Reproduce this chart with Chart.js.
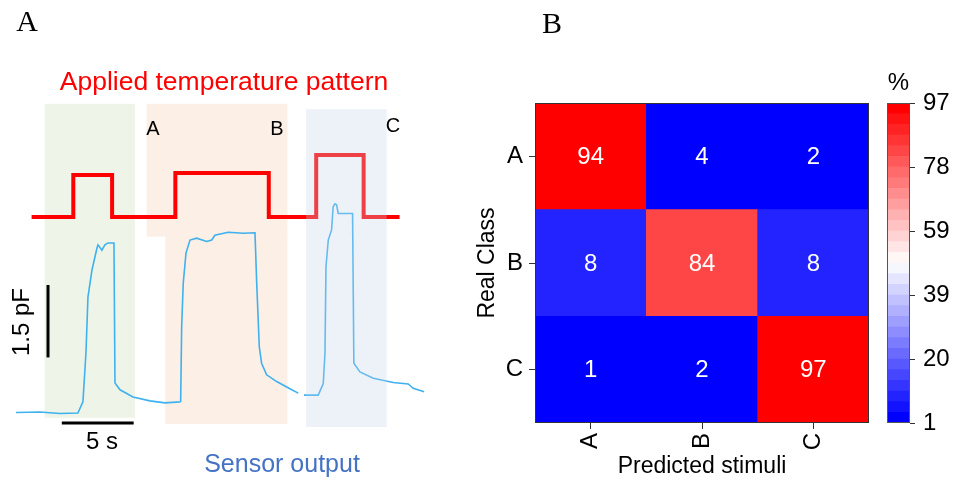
<!DOCTYPE html>
<html>
<head>
<meta charset="utf-8">
<script src="https://cdn.jsdelivr.net/npm/chart.js@4.4.1/dist/chart.umd.min.js"></script>
<style>
  html, body { margin:0; padding:0; background:#fff; }
  #wrap { position:relative; width:955px; height:483px; overflow:hidden; }
  canvas { position:absolute; top:0; }
  #traceCanvas { left:0; }
  #matrixCanvas { left:470px; }
  #barCanvas { left:860px; }
</style>
</head>
<body>
<div id="wrap">
  <canvas id="traceCanvas" width="470" height="483"></canvas>
  <canvas id="matrixCanvas" width="404" height="483"></canvas>
  <canvas id="barCanvas" width="95" height="483"></canvas>
</div>
<script>
// ---- panel A data (time in s, sensor in pF, temperature in arbitrary steps)
const tempTime  = [1.2, 4.1, 4.1, 6.8, 6.8, 11.2, 11.2, 17.7, 17.7, 21.0, 21.0, 24.3, 24.3, 26.8];
const tempLevel = [0, 0, 4.2, 4.2, 0, 0, 4.4, 4.4, 0, 0, 6.2, 6.2, 0, 0];

const sensorTime = [0.11, 1.78, 3.17, 4.42, 4.77, 4.98, 5.12, 5.40, 5.75, 5.82, 6.09, 6.30, 6.51, 6.93, 7.00,
  7.35, 8.25, 9.43, 10.48, 11.52, 11.57, 11.64, 11.75, 11.94, 12.22, 12.68, 13.38, 13.73, 13.95, 14.88,
  15.90, 16.74, 16.86, 17.04, 17.20, 17.55, 18.25, 19.17, 19.75, 19.95, 20.15, 21.14, 21.49, 21.61, 21.68,
  21.84, 22.07, 22.18, 22.30, 22.42, 22.53, 23.53, 23.62, 24.04, 24.97, 26.36, 27.40, 27.75, 28.51];
const sensorPF = [-0.04, -0.03, -0.06, -0.05, 0.18, 1.19, 2.35, 2.91, 3.37, 3.43, 3.32, 3.43, 3.47, 3.47, 0.57,
  0.43, 0.28, 0.20, 0.16, 0.18, 0.19, 1.74, 2.64, 3.26, 3.53, 3.57, 3.50, 3.53, 3.63, 3.69,
  3.67, 3.68, 2.64, 1.32, 0.98, 0.74, 0.60, 0.45, 0.36, null, 0.32, 0.32, 0.56, 1.19, 2.98,
  3.53, 3.74, 4.22, 4.28, 4.26, 4.08, 4.08, 0.98, 0.80, 0.67, 0.58, 0.55, 0.46, 0.39];

// stimulus windows (s / pF)
const shadeStart  = [2.1, 9.2, 10.5, 20.3];
const shadeEnd    = [8.4, 19.0, 19.0, 25.9];
const shadeTop    = [6.35, 6.35, 3.65, 6.24];
const shadeBottom = [-0.15, 3.6, -0.28, -0.34];
const shadeColors = ['#eef5e8', '#fbefe6', '#fbefe6', 'rgba(195,212,235,0.3)'];

// scale bars: 1.5 pF and 5 s
const pfBarTime = [2.34, 2.34];
const pfBarValue = [1.1, 2.6];
const sBarTime = [3.3, 8.3];
const sBarValue = [-0.26, -0.26];

// ---- panel B data
const predictedLabels = ['A', 'B', 'C'];
const realLabels = ['A', 'B', 'C'];
const rowA = [94, 4, 2];
const rowB = [8, 84, 8];
const rowC = [1, 2, 97];
const colorTicks = [1, 20, 39, 59, 78, 97];

const cMin = 1, cMax = 97, nBands = 30;
const FONT = 'Liberation Sans, Arial, sans-serif';
Chart.defaults.font.family = FONT;
Chart.defaults.color = '#000';

function toXY(xs, ys){
    return xs.map((x, i) => ({x: x, y: ys[i]}));
}
function bandColor(i){
    let t = i / (nBands - 1);
    if(t < 0.5){
        let c = Math.round(510 * t);
        return `rgb(${c},${c},255)`;
    }
    let c = Math.round(510 * (1 - t));
    return `rgb(255,${c},${c})`;
}
function valueColor(v){
    let i = Math.floor((v - cMin) / ((cMax - cMin) / nBands));
    return bandColor(Math.max(0, Math.min(nBands - 1, i)));
}

function drawShade(chart, idx){
    const ctx = chart.ctx, x = chart.scales.x, y = chart.scales.y;
    idx.forEach(i => {
        let l = x.getPixelForValue(shadeStart[i]), r = x.getPixelForValue(shadeEnd[i]);
        let t = y.getPixelForValue(shadeTop[i]), b = y.getPixelForValue(shadeBottom[i]);
        ctx.fillStyle = shadeColors[i];
        ctx.fillRect(l, t, r - l, b - t);
    });
}

const tracePlugin = {
    id: 'tracePlugin',
    beforeDatasetsDraw(chart){
        drawShade(chart, [0, 1, 2]);
    },
    afterDatasetsDraw(chart){
        drawShade(chart, [3]);
        const ctx = chart.ctx;
        ctx.save();
        ctx.textAlign = 'center';
        ctx.textBaseline = 'alphabetic';
        ctx.fillStyle = '#000';
        ctx.font = '30px Liberation Serif, Times New Roman, serif';
        ctx.fillText('A', 27, 31);
        ctx.fillStyle = '#ff0000';
        ctx.font = '26.5px ' + FONT;
        ctx.fillText('Applied temperature pattern', 224, 90);
        ctx.fillStyle = '#000';
        ctx.font = '20px ' + FONT;
        ctx.fillText('A', 153, 135);
        ctx.fillText('B', 277, 135);
        ctx.fillText('C', 393, 132);
        ctx.font = '24px ' + FONT;
        ctx.fillText('5 s', 102, 449);
        ctx.fillStyle = '#4472c4';
        ctx.font = '25px ' + FONT;
        ctx.fillText('Sensor output', 282, 472);
        ctx.fillStyle = '#000';
        ctx.font = '24px ' + FONT;
        ctx.translate(22, 322);
        ctx.rotate(-Math.PI / 2);
        ctx.textBaseline = 'middle';
        ctx.fillText('1.5 pF', 0, 0);
        ctx.restore();
    }
};

new Chart(document.getElementById('traceCanvas'), {
    type: 'line',
    data: {
        datasets: [
            {data: toXY(tempTime, tempLevel), yAxisID: 'yT', borderColor: '#ff0000', borderWidth: 4},
            {data: toXY(sensorTime, sensorPF), yAxisID: 'y', borderColor: '#3eb1ee', borderWidth: 1.6, spanGaps: false},
            {data: toXY(pfBarTime, pfBarValue), yAxisID: 'y', borderColor: '#000', borderWidth: 3},
            {data: toXY(sBarTime, sBarValue), yAxisID: 'y', borderColor: '#000', borderWidth: 3}
        ]
    },
    options: {
        responsive: false, animation: false, devicePixelRatio: 1,
        layout: {padding: 0},
        plugins: {legend: {display: false}, tooltip: {enabled: false}},
        elements: {point: {radius: 0}, line: {tension: 0, borderCapStyle: 'butt', borderJoinStyle: 'miter', fill: false}},
        scales: {
            x: {type: 'linear', min: -1, max: 31.7, display: false},
            y: {min: -1.5, max: 8.5, display: false},
            yT: {min: -26.6, max: 21.7, display: false}
        }
    },
    plugins: [tracePlugin]
});

// ---- panel B: confusion matrix as stacked unit bars
const rows = [rowC, rowB, rowA];
const axisGrid = {display: true, drawOnChartArea: false, drawTicks: true, tickLength: 6, color: '#333', offset: false};

const matrixPlugin = {
    id: 'matrixPlugin',
    afterDatasetsDraw(chart){
        const ctx = chart.ctx;
        ctx.save();
        ctx.fillStyle = '#fff';
        ctx.font = '24px ' + FONT;
        ctx.textAlign = 'center';
        ctx.textBaseline = 'middle';
        chart.data.datasets.forEach((ds, i) => {
            chart.getDatasetMeta(i).data.forEach((bar, j) => {
                ctx.fillText(String(ds.values[j]), bar.x, (bar.y + bar.base) / 2 + 1);
            });
        });
        const a = chart.chartArea;
        ctx.strokeStyle = '#333';
        ctx.lineWidth = 1;
        ctx.strokeRect(a.left + 0.5, a.top + 0.5, a.right - a.left - 1, a.bottom - a.top - 1);
        ctx.fillStyle = '#000';
        ctx.font = '30px Liberation Serif, Times New Roman, serif';
        ctx.textAlign = 'left';
        ctx.textBaseline = 'alphabetic';
        ctx.fillText('B', 72, 33);
        ctx.restore();
    }
};

new Chart(document.getElementById('matrixCanvas'), {
    type: 'bar',
    data: {
        labels: predictedLabels,
        datasets: rows.map(row => ({
            data: row.map(() => 1),
            values: row,
            backgroundColor: row.map(valueColor),
            borderWidth: 0,
            barPercentage: 1,
            categoryPercentage: 1
        }))
    },
    options: {
        responsive: false, animation: false, devicePixelRatio: 1,
        layout: {padding: {top: 103, right: 5, left: 0, bottom: 0}},
        plugins: {legend: {display: false}, tooltip: {enabled: false}},
        scales: {
            x: {
                stacked: true,
                grid: axisGrid,
                border: {display: false},
                ticks: {font: {size: 24}, minRotation: 90, maxRotation: 90, padding: 4},
                title: {display: true, text: 'Predicted stimuli', font: {size: 23}, padding: {top: 0, bottom: 3}},
                afterFit(s){ s.height = 60; }
            },
            y: {
                stacked: true, min: 0, max: 3,
                grid: axisGrid,
                border: {display: false},
                afterBuildTicks(s){ s.ticks = [0.5, 1.5, 2.5].map(v => ({value: v})); },
                ticks: {font: {size: 24}, padding: 6, callback: v => realLabels[2 - Math.floor(v)]},
                title: {display: true, text: 'Real Class', font: {size: 23}, padding: {top: 4, bottom: 0}},
                afterFit(s){ s.width = 65; }
            }
        }
    },
    plugins: [matrixPlugin]
});

// ---- colour bar
const bandSize = (cMax - cMin) / nBands;
const bandSets = [];
for(let i = 0; i < nBands; i++){
    bandSets.push({
        data: [[cMin + i * bandSize, cMin + (i + 1) * bandSize]],
        backgroundColor: bandColor(i),
        borderWidth: 0, grouped: false,
        barPercentage: 1, categoryPercentage: 1
    });
}

const barPlugin = {
    id: 'barPlugin',
    afterDatasetsDraw(chart){
        const ctx = chart.ctx, a = chart.chartArea;
        ctx.save();
        ctx.strokeStyle = '#555';
        ctx.lineWidth = 1;
        ctx.strokeRect(a.left + 0.5, a.top + 0.5, a.right - a.left - 1, a.bottom - a.top - 1);
        ctx.fillStyle = '#000';
        ctx.font = '24px ' + FONT;
        ctx.textAlign = 'center';
        ctx.fillText('%', (a.left + a.right) / 2, 90);
        ctx.restore();
    }
};

new Chart(document.getElementById('barCanvas'), {
    type: 'bar',
    data: {labels: ['%'], datasets: bandSets},
    options: {
        responsive: false, animation: false, devicePixelRatio: 1,
        layout: {padding: {top: 103, left: 27, bottom: 60, right: 0}},
        plugins: {legend: {display: false}, tooltip: {enabled: false}},
        scales: {
            x: {display: false},
            y: {
                position: 'right', min: cMin, max: cMax,
                grid: {display: true, drawOnChartArea: false, drawTicks: true, tickLength: 5, color: '#333'},
                border: {display: false},
                afterBuildTicks(s){
                    s.ticks = colorTicks.map((t, k) => ({value: cMin + k * (cMax - cMin) / (colorTicks.length - 1)}));
                },
                ticks: {font: {size: 24}, padding: 8, callback: (v, k) => colorTicks[k]},
                afterFit(s){ s.width = 45; }
            }
        }
    },
    plugins: [barPlugin]
});
</script>
</body>
</html>
